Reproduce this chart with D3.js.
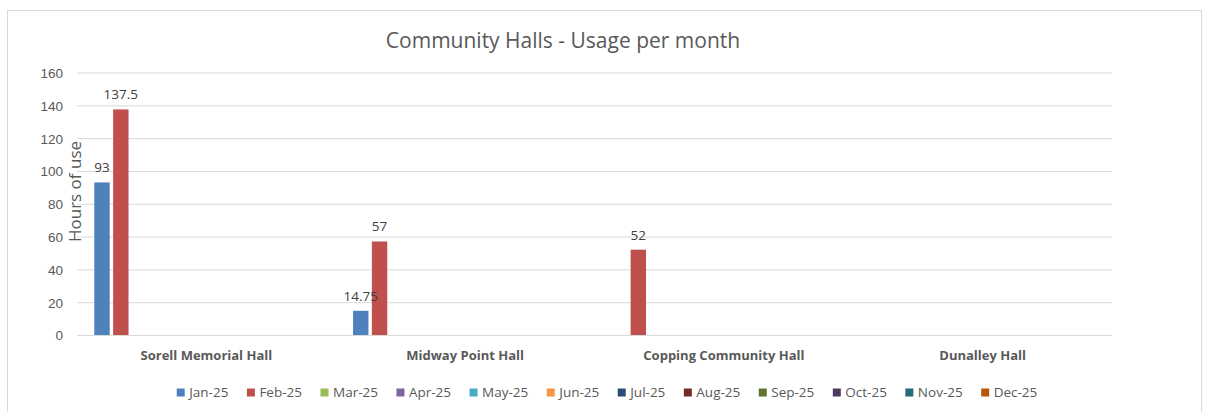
<!DOCTYPE html>
<html>
<head>
<meta charset="utf-8">
<script src="https://cdn.jsdelivr.net/npm/d3@7"></script>
<style>
  html, body { margin: 0; padding: 0; background: #fff; }
  svg { display: block; font-family: "Open Sans", "Noto Sans", sans-serif; }
</style>
</head>
<body>
<svg id="chart" width="1208" height="412"></svg>
<script>
// Halls along the category axis
const halls = ["Sorell Memorial Hall", "Midway Point Hall", "Copping Community Hall", "Dunalley Hall"];

// One series per month; null where a hall has no recorded use
const months = ["Jan-25", "Feb-25", "Mar-25", "Apr-25", "May-25", "Jun-25",
                "Jul-25", "Aug-25", "Sep-25", "Oct-25", "Nov-25", "Dec-25"];
const jan25 = [93, 14.75, null, null];
const feb25 = [137.5, 57, 52, null];
const mar25 = [null, null, null, null];
const apr25 = [null, null, null, null];
const may25 = [null, null, null, null];
const jun25 = [null, null, null, null];
const jul25 = [null, null, null, null];
const aug25 = [null, null, null, null];
const sep25 = [null, null, null, null];
const oct25 = [null, null, null, null];
const nov25 = [null, null, null, null];
const dec25 = [null, null, null, null];
const seriesValues = [jan25, feb25, mar25, apr25, may25, jun25, jul25, aug25, sep25, oct25, nov25, dec25];

const yTicks = [0, 20, 40, 60, 80, 100, 120, 140, 160];
const monthColors = ["#4F81BD", "#C0504D", "#9BBB59", "#8064A2", "#4BACC6", "#F79646",
                     "#2C4D75", "#772C2A", "#5F7530", "#4D3B62", "#276A7C", "#B65708"];

const svg = d3.select("#chart");
const textColor = "#595959";
const gridColor = "#d9d9d9";

// chart frame
svg.append("rect")
  .attr("x", 7.5).attr("y", 10.5)
  .attr("width", 1194).attr("height", 420)
  .attr("fill", "#fff").attr("stroke", gridColor).attr("stroke-width", 1);

const plot = { left: 77, right: 1112, top: 72.5, bottom: 335 };

const y = d3.scaleLinear().domain([0, 160]).range([plot.bottom, plot.top]);
const x0 = d3.scaleBand().domain(halls).range([plot.left, plot.right]).paddingInner(0).paddingOuter(0);

// clustered bars with a small gap on each side of the cluster
const clusterPad = 16.5;
const x1 = d3.scaleBand().domain(months)
  .range([clusterPad, x0.bandwidth() - clusterPad]).paddingInner(0).paddingOuter(0);

// gridlines and tick labels
const yAxis = d3.axisLeft(y).tickValues(yTicks).tickSize(-(plot.right - plot.left));
const gy = svg.append("g").attr("transform", `translate(${plot.left},0)`).call(yAxis);
gy.select(".domain").remove();
gy.selectAll(".tick line").attr("stroke", gridColor).attr("stroke-width", 1);
gy.selectAll(".tick text")
  .attr("fill", textColor).attr("font-size", 13.5)
  .attr("x", 63 - plot.left).attr("dy", "0.36em");

const cells = [];
halls.forEach((h, hi) => {
  months.forEach((m, mi) => {
    const v = seriesValues[mi][hi];
    if (v !== null && v !== undefined) cells.push({ hall: h, month: m, mi, value: v });
  });
});

// bars
const barLeft = 0.8, barGap = 3.4;
svg.append("g").selectAll("rect")
  .data(cells)
  .join("rect")
  .attr("x", d => x0(d.hall) + x1(d.month) + barLeft)
  .attr("width", x1.bandwidth() - barGap)
  .attr("y", d => y(d.value))
  .attr("height", d => y(0) - y(d.value))
  .attr("fill", d => monthColors[d.mi]);

// value labels
svg.append("g").selectAll("text")
  .data(cells)
  .join("text")
  .attr("x", d => x0(d.hall) + x1(d.month) + barLeft + (x1.bandwidth() - barGap) / 2)
  .attr("y", d => y(d.value) - 10)
  .attr("text-anchor", "middle")
  .attr("fill", "#404040")
  .attr("font-size", 13.5)
  .text(d => d.value);

// category labels
svg.append("g").selectAll("text")
  .data(halls)
  .join("text")
  .attr("x", d => x0(d) + x0.bandwidth() / 2)
  .attr("y", 360)
  .attr("text-anchor", "middle")
  .attr("fill", textColor)
  .attr("font-size", 13)
  .attr("font-weight", "bold")
  .text(d => d);

// title
svg.append("text")
  .attr("x", 563).attr("y", 48)
  .attr("text-anchor", "middle")
  .attr("fill", textColor)
  .attr("font-size", 21)
  .text("Community Halls - Usage per month");

// y axis title
svg.append("text")
  .attr("transform", "translate(81,191.5) rotate(-90)")
  .attr("text-anchor", "middle")
  .attr("fill", textColor)
  .attr("font-size", 17)
  .text("Hours of use");

// legend
const legend = svg.append("g");
const items = legend.selectAll("g").data(months).join("g");
items.append("rect")
  .attr("width", 8).attr("height", 8).attr("y", -8.5)
  .attr("fill", (d, i) => monthColors[i]);
items.append("text")
  .attr("x", 12.5).attr("y", 0)
  .attr("fill", textColor).attr("font-size", 13.5)
  .text(d => d);
let cursor = 0;
const itemGap = 18.5;
items.each(function () {
  const g = d3.select(this);
  g.attr("transform", `translate(${cursor},0)`);
  const w = 12.5 + g.select("text").node().getComputedTextLength();
  cursor += w + itemGap;
});
const legendWidth = cursor - itemGap;
legend.attr("transform", `translate(${607 - legendWidth / 2},397)`);
</script>
</body>
</html>
